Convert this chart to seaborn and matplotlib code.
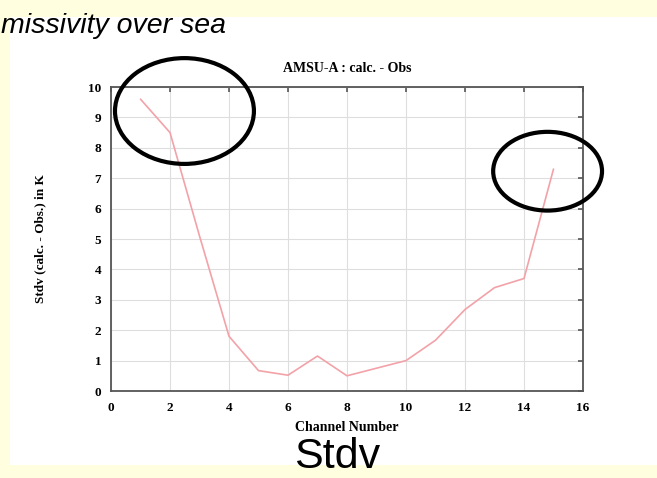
import matplotlib
matplotlib.use("Agg")
import matplotlib.pyplot as plt
from matplotlib.patches import Ellipse, Rectangle
import seaborn as sns
import pandas as pd

# channel numbers and std dev of (calc - obs)
channels = [1, 2, 3, 4, 5, 6, 7, 8, 9, 10, 11, 12, 13, 14, 15]
stdv = [9.6, 8.5, 5.1, 1.8, 0.67, 0.52, 1.15, 0.5, 0.75, 1.0, 1.67, 2.68, 3.4, 3.7, 7.3]
xticks = [0, 2, 4, 6, 8, 10, 12, 14, 16]
yticks = [0, 1, 2, 3, 4, 5, 6, 7, 8, 9, 10]

df = pd.DataFrame({"channel": channels, "stdv": stdv})

sns.set_style("white")
plt.rcParams["font.family"] = ["Liberation Serif", "DejaVu Serif"]
plt.rcParams["text.color"] = "black"
plt.rcParams["axes.labelcolor"] = "black"
plt.rcParams["xtick.color"] = "black"
plt.rcParams["ytick.color"] = "black"

W, H = 657, 478
fig = plt.figure(figsize=(W / 100, H / 100), dpi=100)
fig.patch.set_facecolor("#ffffe0")

# white slide panel
fig.patches.append(Rectangle((10 / W, 1 - 465 / H), 1 - 10 / W, (465 - 17) / H,
                             transform=fig.transFigure, facecolor="white",
                             edgecolor="none", zorder=-5))

ax = fig.add_axes([111 / W, 1 - 391 / H, (583 - 111) / W, (391 - 87) / H])
ax.set_facecolor("white")

sns.lineplot(data=df, x="channel", y="stdv", color="#f2a2a8", linewidth=1.2, ax=ax)

ax.set_xlim(0, 16)
ax.set_ylim(0, 10)
ax.set_xticks(xticks)
ax.set_yticks(yticks)
ax.grid(True, color="#dedede", linewidth=0.8)
ax.tick_params(direction="in", length=3.5, width=1.2, color="#555555",
               labelcolor="black", top=True, right=True, labelsize=9.5)
ax.tick_params(axis="x", pad=8)
ax.tick_params(axis="y", pad=7)
for lab in ax.get_xticklabels() + ax.get_yticklabels():
    lab.set_fontweight("bold")
for s in ax.spines.values():
    s.set_color("#555555")
    s.set_linewidth(1.3)

ax.set_title("AMSU-A : calc. - Obs", fontsize=10, fontweight="bold", pad=11)
ax.set_xlabel("Channel Number", fontsize=10, fontweight="bold", labelpad=5)
ax.set_ylabel("Stdv (calc. - Obs.) in K", fontsize=9.5, fontweight="bold", labelpad=30)

# hand-drawn highlight ellipses
ax.add_patch(Ellipse((2.49, 9.21), 4.71, 3.48, fill=False, edgecolor="black",
                     linewidth=3, clip_on=False, zorder=5))
ax.add_patch(Ellipse((14.8, 7.23), 3.69, 2.59, fill=False, edgecolor="black",
                     linewidth=3, clip_on=False, zorder=5))

fig.text(1 / W, 1 - 33 / H, "missivity over sea", ha="left", va="baseline",
         fontsize=20.5, style="italic", family=["Liberation Sans", "DejaVu Sans"])
fig.text(337 / W, 1 - 468 / H, "Stdv", ha="center", va="baseline",
         fontsize=31, family=["Liberation Sans", "DejaVu Sans"])

fig.savefig("out.png", dpi=100, facecolor=fig.get_facecolor())
